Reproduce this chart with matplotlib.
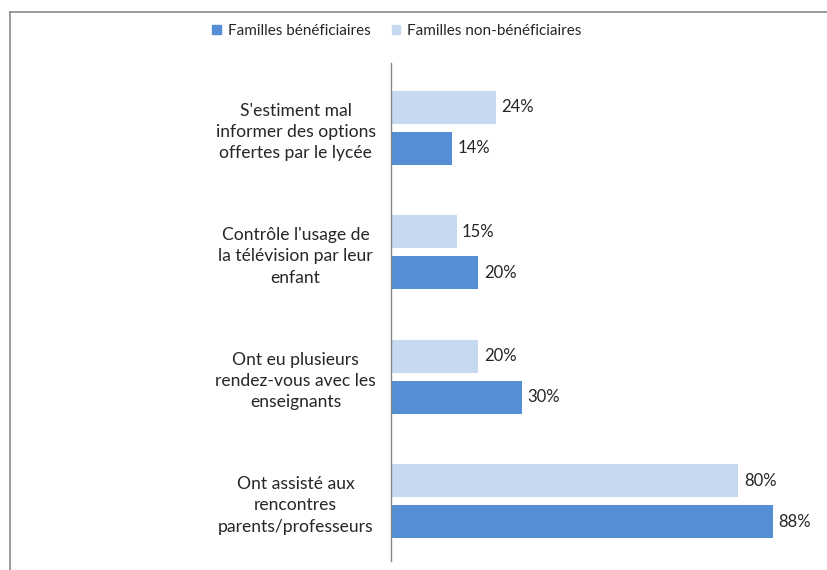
import matplotlib
matplotlib.use("Agg")
import matplotlib.pyplot as plt
from matplotlib.patches import Patch
from matplotlib.lines import Line2D
import numpy as np

plt.rcParams['font.family'] = ['Lato', 'DejaVu Sans']

categories = [
    "S'estiment mal\ninformer des options\noffertes par le lycée",
    "Contrôle l'usage de\nla télévision par leur\nenfant",
    "Ont eu plusieurs\nrendez-vous avec les\nenseignants",
    "Ont assisté aux\nrencontres\nparents/professeurs",
]
beneficiaires = [14, 20, 30, 88]
non_beneficiaires = [24, 15, 20, 80]
series_names = ["Familles bénéficiaires", "Familles non-bénéficiaires"]

dark = "#558ED5"
light = "#C6D9F1"
text_color = "#262626"

W, H = 828, 570
fig = plt.figure(figsize=(W / 100, H / 100), dpi=100)
ax = fig.add_axes([391.5 / W, 9 / H, 433.5 / W, 498 / H])

y = np.arange(len(categories))
bar_h = 0.266
offset = (bar_h + 0.065) / 2

b_light = ax.barh(y - offset, non_beneficiaires, height=bar_h, color=light)
b_dark = ax.barh(y + offset, beneficiaires, height=bar_h, color=dark)

for bars in (b_light, b_dark):
    ax.bar_label(bars, labels=[f"{v:g}%" for v in bars.datavalues],
                 padding=4, fontsize=12, color=text_color)

ax.set_xlim(0, 100)
ax.set_ylim(len(categories) - 0.52, -0.52)
ax.set_yticks(y)
ax.set_yticklabels(categories, ha="center", fontsize=12.6, color=text_color,
                   linespacing=1.4)
ax.tick_params(axis="y", length=0, pad=69)
ax.set_xticks([])
for side in ("top", "right", "bottom"):
    ax.spines[side].set_visible(False)
ax.spines["left"].set_color("#868686")
ax.spines["left"].set_linewidth(1.0)

handles = [Patch(color=dark), Patch(color=light)]
fig.legend(handles, series_names, loc="center", bbox_to_anchor=(397 / W, 1 - 31 / H),
           ncol=2, frameon=False, fontsize=11, handlelength=0.55, handleheight=0.55,
           handletextpad=0.45, columnspacing=1.4, labelcolor=text_color)

# outer frame
fig.add_artist(Line2D([9.5 / W, 9.5 / W], [0, 1 - 12 / H], color="#8a8a8a", lw=1.2))
fig.add_artist(Line2D([9.5 / W, 1], [1 - 12 / H, 1 - 12 / H], color="#8a8a8a", lw=1.2))

fig.savefig("out.png", dpi=100)
